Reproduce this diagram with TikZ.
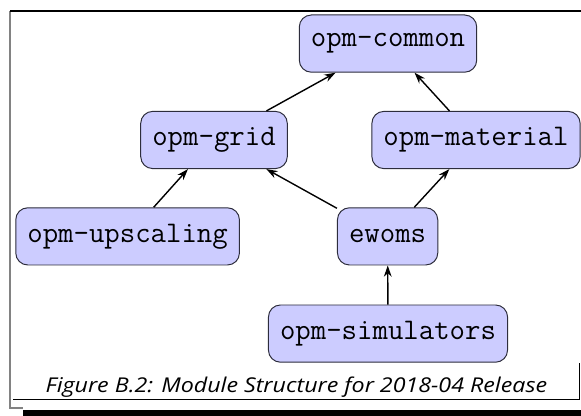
\documentclass[tikz,border=0pt]{standalone}
\usepackage{fontspec}
\usepackage{xcolor}
\usepackage{tikz}
\usetikzlibrary{arrows.meta}
\newfontfamily\capfont{Open Sans}
\definecolor{modfill}{RGB}{204,204,255}
\definecolor{modstroke}{RGB}{45,45,60}
\definecolor{framegray}{RGB}{130,130,130}

\begin{document}
\begin{tikzpicture}[
  module/.style={draw=modstroke, fill=modfill, line width=0.7pt, rounded corners=0.3cm,
    font=\fontsize{21.3}{24}\selectfont\ttfamily, inner xsep=0.29cm, inner ysep=0pt,
    minimum height=1.43cm},
  depends/.style={-{Stealth[length=8pt, width=5.5pt]}, line width=1pt}
]
\useasboundingbox (0, 0) rectangle (14.525, 10.4);
\clip (0, 0) rectangle (14.525, 10.4);
% page frame round the figure, with its shadow at the foot
\draw[framegray, line width=1.5pt] (0.25, 10.125) -- (0.25, 0.2) -- (0.575, 0.2);
\draw[black, line width=1.1pt] (0.25, 10.125) -- (14.525, 10.125);
\fill[black] (0.575, 0) rectangle (14.525, 0.15);
\draw[black, line width=0.6pt] (0.325, 0.425) -- (14.475, 0.425) -- (14.475, 1.325);
% modules, one row per layer
\node[module] (common) at (9.70, 9.31) {opm-common};
\node[module] (grid) at (5.35, 6.90) {opm-grid};
\node[module] (material) at (11.90, 6.90) {opm-material};
\node[module] (upscaling) at (3.19, 4.49) {opm-upscaling};
\node[module] (ewoms) at (9.69, 4.49) {ewoms};
\node[module] (simulators) at (9.70, 2.06) {opm-simulators};
% dependencies point up to what is used
\foreach \from/\to in {grid/common, material/common, upscaling/grid,
                       ewoms/grid, ewoms/material, simulators/ewoms} {
  \draw[depends] (\from) -- (\to);
}
\node (caption) at (7.41, 0.71)
  {\scalebox{1.14}[1]{\capfont\itshape\fontsize{14.5}{17}\selectfont Figure B.2: Module Structure for 2018-04 Release}};
\end{tikzpicture}
\end{document}
